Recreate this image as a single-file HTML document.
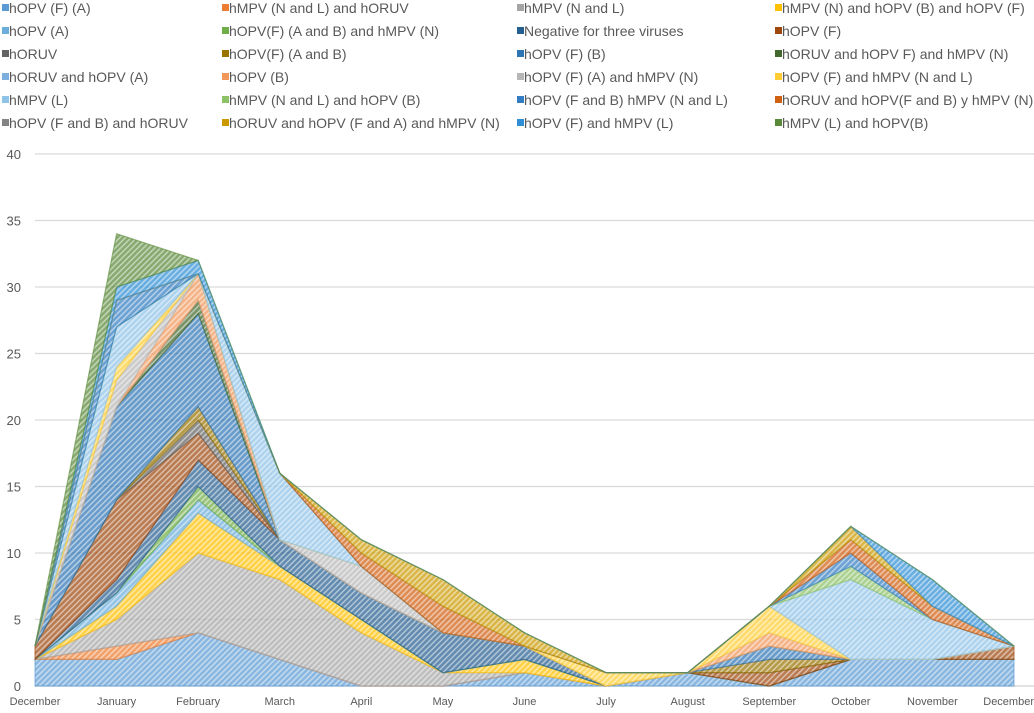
<!DOCTYPE html>
<html><head><meta charset="utf-8"><style>
body{margin:0;background:#fff;font-family:"Liberation Sans",sans-serif;}
svg text{font-family:"Liberation Sans",sans-serif;fill:#595959;}
</style></head><body>
<svg id="chart" width="1034" height="708" xmlns="http://www.w3.org/2000/svg">
<defs id="defs"></defs>
<g id="legend"></g>
<g id="grid"></g>
<g id="areas"></g>
<g id="yaxis"></g>
<g id="xaxis"></g>
</svg>
<script>
const months = ["December","January","February","March","April","May","June","July","August","September","October","November","December"];
const yTicks = [0,5,10,15,20,25,30,35,40];
const seriesNames = ["hOPV (F) (A)","hMPV (N and L) and hORUV","hMPV (N and L)","hMPV (N) and hOPV (B) and hOPV (F)","hOPV (A)","hOPV(F) (A and B) and hMPV (N)","Negative for three viruses","hOPV (F)","hORUV","hOPV(F) (A and B)","hOPV (F) (B)","hORUV and hOPV F) and hMPV (N)","hORUV and hOPV (A)","hOPV (B)","hOPV (F) (A) and hMPV (N)","hOPV (F) and hMPV (N and L)","hMPV (L)","hMPV (N and L) and hOPV (B)","hOPV (F and B) hMPV (N and L)","hORUV and hOPV(F and B) y hMPV (N)","hOPV (F and B) and hORUV","hORUV and hOPV (F and A) and hMPV (N)","hOPV (F) and hMPV (L)","hMPV (L) and hOPV(B)"];
const seriesColors = ["#5B9BD5","#ED7D31","#A5A5A5","#FFC000","#6BAEDC","#70AD47","#255E91","#9E480E","#636363","#997300","#2E75B6","#43682B","#7CAFDD","#F1975A","#B7B7B7","#FFCD33","#8FC3E8","#8CC168","#327DC2","#D26012","#848484","#CC9A00","#2F8FD6","#5A8A39"];
const s01=[2,2,4,2,0,0,1,0,1,0,2,2,2];
const s02=[0,1,0,0,0,0,0,0,0,0,0,0,0];
const s03=[0,2,6,6,4,1,0,0,0,0,0,0,0];
const s04=[0,1,3,1,1,0,1,0,0,0,0,0,0];
const s05=[0,1,1,0,0,0,0,0,0,0,0,0,0];
const s06=[0,0,1,0,0,0,0,0,0,0,0,0,0];
const s07=[0,1,2,2,2,3,1,0,0,0,0,0,0];
const s08=[1,6,2,0,0,0,0,0,0,1,0,0,1];
const s09=[0,0,1,0,0,0,0,0,0,0,0,0,0];
const s10=[0,0,1,0,0,0,0,0,0,1,0,0,0];
const s11=[0,7,7,0,0,0,0,0,0,1,0,0,0];
const s12=[0,0,1,0,0,0,0,0,0,0,0,0,0];
const s13=[0,0,0,0,0,0,0,0,0,0,0,0,0];
const s14=[0,0,2,0,0,0,0,0,0,1,0,0,0];
const s15=[0,2,0,0,2,0,0,0,0,0,0,0,0];
const s16=[0,1,0,0,0,0,0,1,0,2,0,0,0];
const s17=[0,3,0,5,0,0,0,0,0,0,6,3,0];
const s18=[0,0,0,0,0,0,0,0,0,0,1,0,0];
const s19=[0,2,0,0,0,0,0,0,0,0,1,0,0];
const s20=[0,0,0,0,1,2,0,0,0,0,1,1,0];
const s21=[0,0,0,0,0,0,0,0,0,0,0,0,0];
const s22=[0,0,0,0,1,2,1,0,0,0,1,0,0];
const s23=[0,1,1,0,0,0,0,0,0,0,0,2,0];
const s24=[0,4,0,0,0,0,0,0,0,0,0,0,0];
const seriesValues=[s01,s02,s03,s04,s05,s06,s07,s08,s09,s10,s11,s12,s13,s14,s15,s16,s17,s18,s19,s20,s21,s22,s23,s24];

const NS="http://www.w3.org/2000/svg";
const X0=35,X1=1014,Y0=686,Y1=154,YMAX=40;
const xs=i=>X0+(X1-X0)*i/(months.length-1);
const ys=v=>Y0-(Y0-Y1)*v/YMAX;
function mk(tag,attrs,parent){const e=document.createElementNS(NS,tag);for(const k in attrs)e.setAttribute(k,attrs[k]);parent.appendChild(e);return e;}

const grid=document.getElementById('grid'),yax=document.getElementById('yaxis'),xax=document.getElementById('xaxis');
yTicks.forEach(t=>{
  const l=mk('line',{x1:X0,x2:X1+20,y1:ys(t),y2:ys(t),stroke:'#d9d9d9','stroke-width':t===0?1.5:1.3},grid);
  
  
  const tx=mk('text',{x:21,y:ys(t)+5,'text-anchor':'end','font-size':13},yax);
  tx.textContent=t;
  
  
});
months.forEach((m,i)=>{
  const last=i===months.length-1;
  const tx=mk('text',{x:last?1034:xs(i),y:705,'text-anchor':last?'end':'middle','font-size':11},xax);
  tx.textContent=m;
  
  
});

const defs=document.getElementById('defs'),areas=document.getElementById('areas');
const cum=months.map(()=>0);
seriesValues.forEach((vals,si)=>{
  const c=seriesColors[si];
  const p=mk('pattern',{id:'p'+si,patternUnits:'userSpaceOnUse',width:4,height:4,patternTransform:'rotate(45)'},defs);
  mk('rect',{width:4,height:4,fill:c,'fill-opacity':0.72},p);
  mk('rect',{width:1.5,height:4,fill:'#ffffff','fill-opacity':0.5},p);
  const lower=cum.slice();
  const upper=lower.map((v,i)=>v+vals[i]);
  let d='';
  upper.forEach((v,i)=>{d+=(i?'L':'M')+xs(i).toFixed(1)+','+ys(v).toFixed(1);});
  for(let i=lower.length-1;i>=0;i--)d+='L'+xs(i).toFixed(1)+','+ys(lower[i]).toFixed(1);
  d+='Z';
  const path=mk('path',{d:d,fill:'url(#p'+si+')',stroke:c,'stroke-opacity':0.6,'stroke-width':1.2},areas);
  
  
  upper.forEach((v,i)=>cum[i]=v);
});

const lg=document.getElementById('legend');
const colX=[2,222,517,775];
seriesNames.forEach((n,i)=>{
  const r=Math.floor(i/4),c=i%4;
  const y=8+r*23;
  const g=mk('g',{},lg);
  
  
  mk('rect',{x:colX[c],y:y-4,width:7,height:7,fill:seriesColors[i]},g);
  const t=mk('text',{x:colX[c]+7,y:y+5,'font-size':14},g);
  t.textContent=n;
});
</script>
</body></html>
